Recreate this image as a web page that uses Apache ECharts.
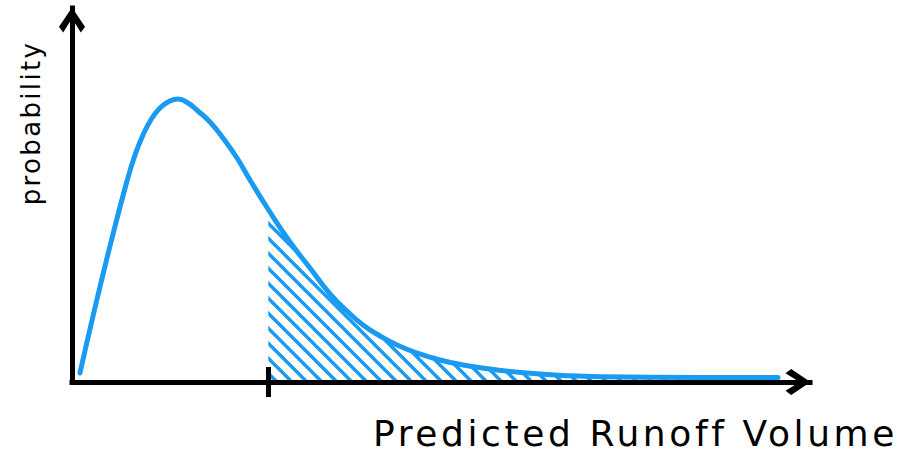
<!DOCTYPE html>
<html>
<head>
<meta charset="utf-8">
<script src="https://cdn.jsdelivr.net/npm/echarts@6/dist/echarts.min.js"></script>
<style>
  html, body { margin: 0; padding: 0; background: #ffffff; }
  #chart { width: 903px; height: 453px; }
  #chart text { letter-spacing: 0.09em; }
  #chart text[style*="36px"] { letter-spacing: 0.1em; }
</style>
</head>
<body>
<div id="chart"></div>
<script>
// Values (x: 0..100 along the axis, y: 0..100 up the axis)
const runoffVolume = [1.08, 2.85, 5.15, 7.45, 8.54, 9.62, 10.84, 11.92, 13.01, 14.36, 15.72, 17.07, 18.70, 20.46, 22.36, 24.12, 26.60, 29.54, 32.25, 34.96, 37.26, 39.43, 41.73, 44.04, 46.75, 49.86, 52.98, 57.59, 62.06, 66.53, 71.54, 85.09, 95.66];
const probability  = [2.41, 17.65, 36.36, 53.74, 60.70, 66.04, 70.59, 73.26, 74.87, 75.67, 74.60, 72.46, 69.52, 65.24, 59.89, 54.01, 46.12, 37.43, 30.48, 23.53, 18.98, 15.24, 12.30, 9.89, 7.75, 5.88, 4.55, 3.21, 2.33, 1.74, 1.39, 1.20, 1.20];
const thresholdValue = 26.6;          // start of the hatched tail / tick position
const tickValues = [thresholdValue];
const xAxisTitle = 'Predicted Runoff Volume';
const yAxisTitle = 'probability';

const BLUE = '#1a9af0';
const BLACK = '#000000';

const curveData = runoffVolume.map((x, i) => [x, probability[i]]);
const hatchData = curveData.filter(p => p[0] >= thresholdValue);

// diagonal hatch pattern
const pat = document.createElement('canvas');
pat.width = 15; pat.height = 15;
const ctx = pat.getContext('2d');
ctx.strokeStyle = BLUE;
ctx.lineWidth = 3.4;
[-15, 0, 15].forEach(c => {
  ctx.beginPath();
  ctx.moveTo(-5, -5 + c);
  ctx.lineTo(20, 20 + c);
  ctx.stroke();
});

const chevron = 'path://M50,0 L100,74 L84,96 L50,42 L16,96 L0,74 Z';

const chart = echarts.init(document.getElementById('chart'), null, { renderer: 'svg' });
chart.setOption({
  animation: false,
  backgroundColor: '#ffffff',
  grid: { left: 72, right: 93, top: 8, bottom: 71, containLabel: false },
  xAxis: [{
    type: 'value', min: 0, max: 100, z: 5,
    axisLine: { show: true, onZero: false, symbol: ['none', chevron], symbolSize: [27, 25], symbolOffset: [0, -12],
      lineStyle: { color: BLACK, width: 5, cap: 'square' } },
    axisTick: { show: true, customValues: tickValues, inside: false, length: 15, lineStyle: { color: BLACK, width: 5 } },
    axisLabel: { show: false },
    splitLine: { show: false }
  }, {
    type: 'value', min: 0, max: 100, z: 5, position: 'bottom',
    axisLine: { show: false },
    axisTick: { show: true, customValues: tickValues, inside: true, length: 15, lineStyle: { color: BLACK, width: 5 } },
    axisLabel: { show: false },
    splitLine: { show: false }
  }],
  yAxis: {
    type: 'value', min: 0, max: 100, z: 5,
    axisLine: { show: true, onZero: false, symbol: ['none', chevron], symbolSize: [27, 25], symbolOffset: [0, -12],
      lineStyle: { color: BLACK, width: 5, cap: 'square' } },
    axisTick: { show: false },
    axisLabel: { show: false },
    splitLine: { show: false }
  },
  graphic: [{
    type: 'text', x: 898, y: 433,
    style: { text: xAxisTitle, fill: BLACK, font: '36px "DejaVu Sans"', textAlign: 'right', textVerticalAlign: 'middle' }
  }, {
    type: 'text', x: 31, y: 123, rotation: Math.PI / 2,
    style: { text: yAxisTitle, fill: BLACK, font: '26px "DejaVu Sans"', textAlign: 'center', textVerticalAlign: 'middle' }
  }],
  series: [{
    type: 'line', data: hatchData, smooth: true, showSymbol: false, z: 1,
    lineStyle: { width: 0, opacity: 0 },
    areaStyle: { color: { image: pat, repeat: 'repeat' }, opacity: 1 }
  }, {
    type: 'line', data: curveData, smooth: true, showSymbol: false, z: 2,
    lineStyle: { width: 5, color: BLUE, cap: 'round', join: 'round' }
  }]
});
</script>
</body>
</html>
